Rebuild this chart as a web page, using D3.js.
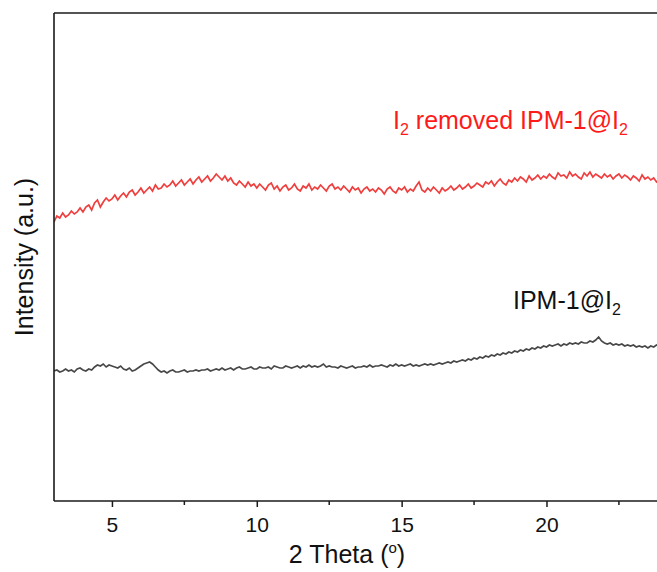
<!DOCTYPE html>
<html>
<head>
<meta charset="utf-8">
<script src="https://cdn.jsdelivr.net/npm/d3@7"></script>
<style>
  body { margin: 0; background: #fff; }
  text { font-family: "Liberation Sans", Arial, sans-serif; }
</style>
</head>
<body>
<script>
// 2 theta grid (degrees)
var thetaStart = 3.0;
var thetaStep = 0.1;

// I2 removed IPM-1@I2 (red), arbitrary units
var removedI2 = [
  279,285,283,288,284,286,290,287,289,293,
  289,294,296,291,298,301,294,299,303,300,
  302,306,301,305,308,304,309,311,306,309,
  313,308,311,314,310,316,312,313,317,314,
  316,320,315,318,321,316,319,322,317,321,
  324,319,322,325,320,323,327,324,321,325,
  320,323,318,316,320,317,314,319,315,317,
  313,317,314,311,316,318,312,315,310,314,
  316,311,313,317,312,310,315,313,317,311,
  314,312,316,313,310,315,317,312,314,311,
  315,312,309,314,311,313,308,312,314,310,
  312,309,313,311,307,312,314,310,308,313,
  311,314,309,312,310,315,319,311,309,313,
  310,314,311,308,313,310,312,315,311,313,
  316,312,314,317,313,315,318,316,314,319,
  317,320,315,319,322,318,316,321,319,323,
  320,324,322,319,325,321,323,326,322,325,
  323,327,324,322,328,325,326,323,329,325,
  327,324,322,328,325,329,324,327,325,323,
  327,324,326,322,325,327,323,326,324,321,
  325,323,320,326,322,324,321,323,319,322
];

// IPM-1@I2 (dark grey)
var ipm1I2 = [
  130,131,129,130,132,130,131,129,132,133,
  131,130,132,131,134,136,135,137,134,136,
  135,134,133,135,132,131,133,130,131,133,
  135,137,138,139,137,134,131,129,130,128,
  130,131,129,129,130,131,129,130,130,131,
  130,131,131,132,130,131,132,131,133,131,
  132,133,131,133,134,132,132,133,134,132,
  132,134,133,133,134,132,135,134,133,133,
  135,134,133,134,135,133,135,134,136,134,
  135,134,135,137,134,135,134,134,133,135,
  134,133,134,135,133,134,134,135,134,136,
  134,135,135,136,135,134,136,135,137,135,
  136,135,136,137,135,136,135,136,137,136,
  137,136,137,138,137,138,139,138,140,139,
  140,141,140,142,141,143,142,144,143,145,
  144,146,145,147,146,148,147,149,148,150,
  149,151,150,152,151,153,152,154,153,155,
  154,156,155,156,157,155,157,156,158,157,
  158,157,159,158,158,160,159,161,164,160,
  158,157,158,156,157,156,157,155,156,155,
  156,154,155,154,155,153,155,154,156,155
];

var majorTicks = [5, 10, 15, 20];
var minorTicks = [7.5, 12.5, 17.5, 22.5];

var width = 657, height = 572;
var plotLeft = 54, plotTop = 13, plotBottom = 501;

var x = d3.scaleLinear().domain([3, 24]).range([plotLeft, plotLeft + 21 * 28.97]);
var y = d3.scaleLinear().domain([0, 488]).range([plotBottom, plotTop]);

var svg = d3.select("body").append("svg")
  .attr("width", width)
  .attr("height", height);

function pts(arr) {
  return arr.map(function (v, i) { return [thetaStart + i * thetaStep, v]; });
}

var line = d3.line()
  .x(function (d) { return x(d[0]); })
  .y(function (d) { return y(d[1]); });

svg.append("defs").append("clipPath").attr("id", "plot")
  .append("rect").attr("x", plotLeft).attr("y", plotTop)
  .attr("width", width - plotLeft).attr("height", plotBottom - plotTop);

var g = svg.append("g").attr("clip-path", "url(#plot)");

g.append("path")
  .datum(pts(ipm1I2))
  .attr("d", line)
  .attr("fill", "none")
  .attr("stroke", "#484848")
  .attr("stroke-width", 1.7);

g.append("path")
  .datum(pts(removedI2))
  .attr("d", line)
  .attr("fill", "none")
  .attr("stroke", "#ef3e3e")
  .attr("stroke-width", 1.7);

// frame: left, top (right side runs off the picture)
svg.append("line").attr("x1", plotLeft).attr("x2", plotLeft)
  .attr("y1", plotTop).attr("y2", plotBottom)
  .attr("stroke", "#1a1a1a").attr("stroke-width", 1.6);
svg.append("line").attr("x1", plotLeft).attr("x2", width)
  .attr("y1", plotTop).attr("y2", plotTop)
  .attr("stroke", "#1a1a1a").attr("stroke-width", 1.6);

// x axis
var xAxis = svg.append("g")
  .attr("transform", "translate(0," + plotBottom + ")")
  .call(d3.axisBottom(x).tickValues(majorTicks).tickSize(6).tickPadding(10)
    .tickFormat(d3.format("d")));
xAxis.select(".domain").remove();
xAxis.selectAll(".tick line").attr("stroke", "#1a1a1a").attr("stroke-width", 1.5);
xAxis.selectAll(".tick text").attr("font-size", 21).attr("fill", "#111")
  .style("font-family", "'Liberation Sans', Arial, sans-serif");

svg.append("g").selectAll("line.minor")
  .data(minorTicks).enter().append("line")
  .attr("x1", function (d) { return x(d); })
  .attr("x2", function (d) { return x(d); })
  .attr("y1", plotBottom).attr("y2", plotBottom + 4)
  .attr("stroke", "#1a1a1a").attr("stroke-width", 1.5);

svg.append("line").attr("x1", plotLeft).attr("x2", width)
  .attr("y1", plotBottom).attr("y2", plotBottom)
  .attr("stroke", "#1a1a1a").attr("stroke-width", 1.6);

// axis titles
var xt = svg.append("text")
  .attr("x", 347).attr("y", 563)
  .attr("text-anchor", "middle")
  .attr("font-size", 25).attr("fill", "#111");
xt.append("tspan").text("2 Theta (");
xt.append("tspan").attr("font-size", 15).attr("dy", -10).text("o");
xt.append("tspan").attr("dy", 10).text(")");

svg.append("text")
  .attr("transform", "translate(33,257) rotate(-90)")
  .attr("text-anchor", "middle")
  .attr("font-size", 25).attr("fill", "#111")
  .text("Intensity (a.u.)");

// series labels
var rl = svg.append("text")
  .attr("x", 393).attr("y", 129)
  .attr("font-size", 25).attr("fill", "#ff1a1a");
rl.append("tspan").text("I");
rl.append("tspan").attr("font-size", 16).attr("dy", 6).text("2");
rl.append("tspan").attr("dy", -6).text(" removed IPM-1@I");
rl.append("tspan").attr("font-size", 16).attr("dy", 6).text("2");

var bl = svg.append("text")
  .attr("x", 513).attr("y", 309)
  .attr("font-size", 25).attr("fill", "#111");
bl.append("tspan").text("IPM-1@I");
bl.append("tspan").attr("font-size", 16).attr("dy", 6).text("2");
</script>
</body>
</html>
